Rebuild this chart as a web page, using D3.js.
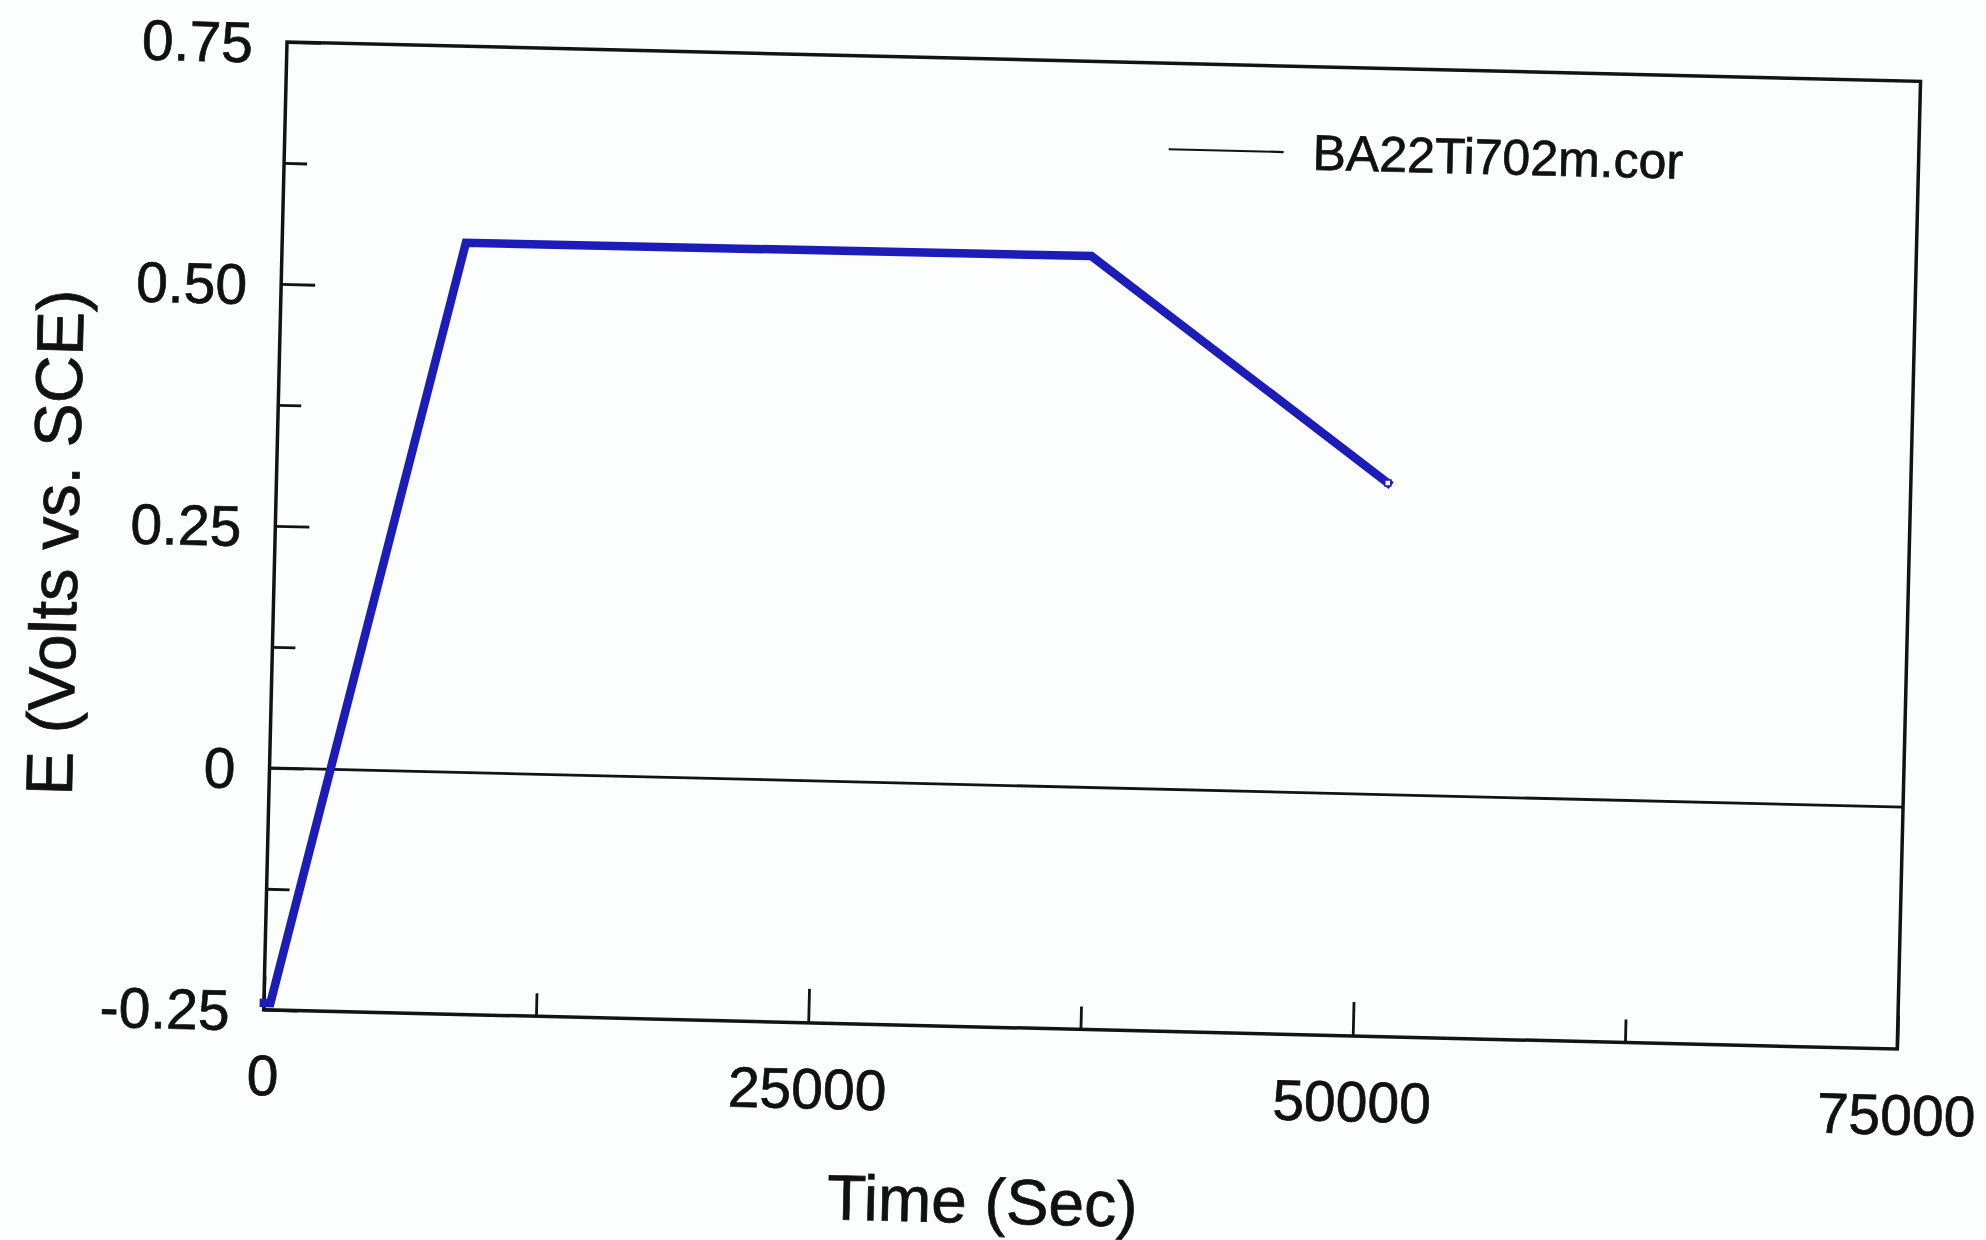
<!DOCTYPE html>
<html>
<head>
<meta charset="utf-8">
<script src="https://cdn.jsdelivr.net/npm/d3@7/dist/d3.min.js"></script>
<style>
  html, body { margin: 0; padding: 0; background: #fcfdfd; }
  svg { display: block; }
  text { font-family: "Liberation Sans", Arial, Helvetica, sans-serif; fill: #111; stroke: #111; stroke-width: 0.7px; }
</style>
</head>
<body>
<svg id="chart" width="1986" height="1240"></svg>
<script>
// Potential vs. time record
const seriesName = "BA22Ti702m.cor";
const timeSec = [0, 300, 8430, 37150, 51000];
const potentialV = [-0.243, -0.243, 0.547, 0.549, 0.322];

const xMajorTicks = [0, 25000, 50000, 75000];
const xMinorTicks = [12500, 37500, 62500];
const yMajorTicks = [-0.25, 0, 0.25, 0.5, 0.75];
const yMinorTicks = [-0.125, 0.125, 0.375, 0.625];

const W = 1634, H = 968;
const svg = d3.select("#chart");
svg.append("rect").attr("width", 1986).attr("height", 1240).attr("fill", "#fcfdfd");

// the page sits slightly tilted
const g = svg.append("g").attr("transform", "translate(287,42) rotate(1.38)");

const x = d3.scaleLinear().domain([0, 75000]).range([0, W]);
const y = d3.scaleLinear().domain([-0.25, 0.75]).range([H, 0]);

const ink = "#131313";

// zero reference line
g.append("line")
  .attr("x1", 0).attr("x2", W)
  .attr("y1", y(0)).attr("y2", y(0))
  .attr("stroke", ink).attr("stroke-width", 2.8);

// y axis
const yAxis = g.append("g").attr("class", "y-axis")
  .call(d3.axisLeft(y).tickValues(yMajorTicks).tickSizeInner(-34).tickSizeOuter(0).tickPadding(34)
    .tickFormat(d => d === 0 ? "0" : d.toFixed(2)));
g.append("g").call(d3.axisLeft(y).tickValues(yMinorTicks).tickSizeInner(-23).tickSizeOuter(0).tickFormat(""));

// x axis
const xAxis = g.append("g").attr("transform", `translate(0,${H})`)
  .call(d3.axisBottom(x).tickValues(xMajorTicks).tickSizeInner(-34).tickSizeOuter(0).tickPadding(45)
    .tickFormat(d => String(d)));
g.append("g").attr("transform", `translate(0,${H})`)
  .call(d3.axisBottom(x).tickValues(xMinorTicks).tickSizeInner(-23).tickSizeOuter(0).tickFormat(""));

g.selectAll(".domain").remove();
g.selectAll(".tick line").attr("stroke", ink).attr("stroke-width", 2.8);
g.selectAll(".tick text")
  .attr("font-size", 57)
  .attr("font-family", "'Liberation Sans', Arial, sans-serif")
  .attr("fill", "#111");
yAxis.selectAll(".tick text").attr("dy", "0.36em");

// plot frame
g.append("rect")
  .attr("x", 0).attr("y", 0).attr("width", W).attr("height", H)
  .attr("fill", "none").attr("stroke", ink).attr("stroke-width", 3.5);

// data trace
const pts = timeSec.map((t, i) => [t, potentialV[i]]);
const lineGen = d3.line().x(d => x(d[0])).y(d => y(d[1]));
g.append("path")
  .datum(pts)
  .attr("d", lineGen)
  .attr("fill", "none")
  .attr("stroke", "#1c1cb8")
  .attr("stroke-width", 8.5)
  .attr("stroke-linejoin", "miter")
  .attr("stroke-linecap", "square");

const last = pts[pts.length - 1];
g.append("rect")
  .attr("x", x(last[0]) - 3).attr("y", y(last[1]) - 3)
  .attr("width", 6).attr("height", 6)
  .attr("fill", "#ffffff").attr("stroke", "#1c1cb8").attr("stroke-width", 1.5);

// axis titles
g.append("text")
  .attr("x", 723).attr("y", 1164)
  .attr("text-anchor", "middle")
  .attr("font-size", 64)
  .text("Time (Sec)");

g.append("text")
  .attr("transform", "translate(-197,506) rotate(-90)")
  .attr("text-anchor", "middle")
  .attr("font-size", 66)
  .text("E (Volts vs. SCE)");

// legend
g.append("line")
  .attr("x1", 884).attr("x2", 999).attr("y1", 86).attr("y2", 86)
  .attr("stroke", ink).attr("stroke-width", 2.2);
g.append("text")
  .attr("x", 1028).attr("y", 103)
  .attr("font-size", 50)
  .text(seriesName);
</script>
</body>
</html>
